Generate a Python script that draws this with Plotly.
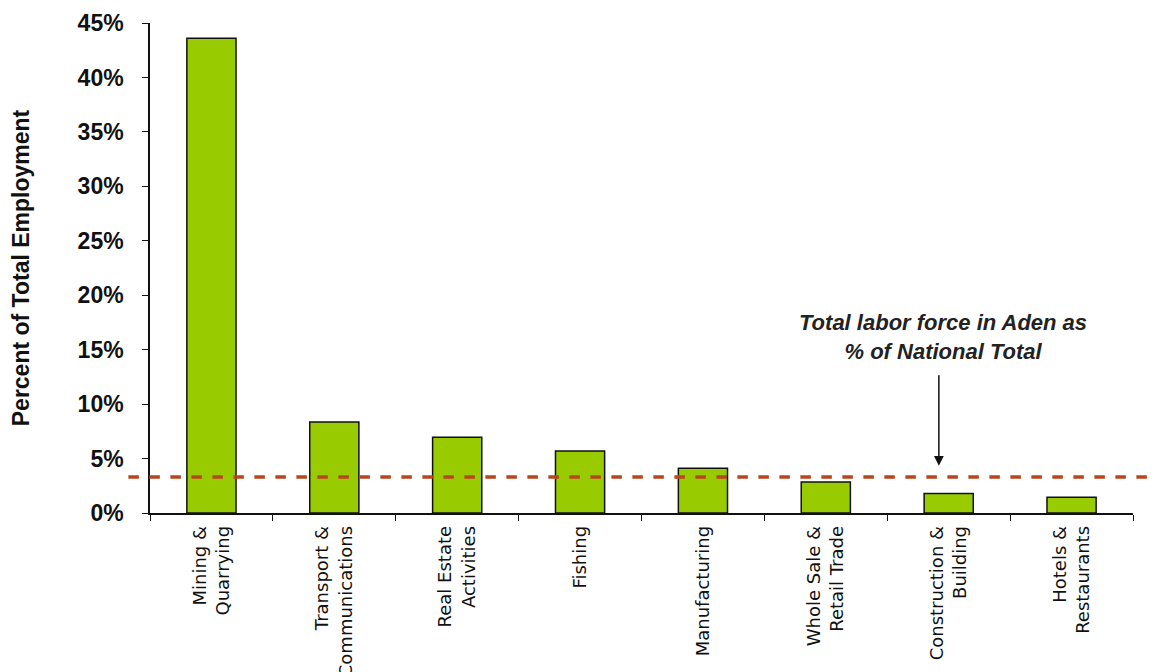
import plotly.graph_objects as go

# Share of total employment by sector (Aden)
sectors = [
    "Mining &<br>Quarrying",
    "Transport &<br>Communications",
    "Real Estate<br>Activities",
    "Fishing",
    "Manufacturing",
    "Whole Sale &<br>Retail Trade",
    "Construction &<br>Building",
    "Hotels &<br>Restaurants",
]
share_pct = [43.6, 8.35, 6.95, 5.7, 4.1, 2.85, 1.8, 1.45]

# National reference line
aden_labor_share = 3.3
y_ticks = [0, 5, 10, 15, 20, 25, 30, 35, 40, 45]

fig = go.Figure()
fig.add_trace(
    go.Bar(
        x=sectors,
        y=share_pct,
        marker=dict(color="#99CC00", line=dict(color="#111111", width=1.5)),
        width=0.4,
    )
)

# Dashed threshold line, runs past both plot edges
fig.add_shape(
    type="line",
    xref="paper",
    yref="y",
    x0=-0.022,
    x1=1.04,
    y0=aden_labor_share,
    y1=aden_labor_share,
    line=dict(color="#B9451C", width=3.5, dash="dash"),
)

# Arrow and callout text
fig.add_annotation(
    x=5.92,
    y=4.35,
    ax=0,
    ay=-92,
    text="",
    showarrow=True,
    arrowhead=2,
    arrowsize=1.3,
    arrowwidth=1.5,
    arrowcolor="#111111",
)
fig.add_annotation(
    x=5.95,
    y=16.2,
    text="<b><i>Total labor force in Aden as<br>% of National Total</i></b>",
    showarrow=False,
    font=dict(size=22, color="#222222", family="Arial, Liberation Sans"),
    align="center",
)

# page body adds an 8px offset, so margins are trimmed to compensate
fig.update_layout(
    width=1164,
    height=672,
    margin=dict(l=142, r=39, t=15, b=167),
    plot_bgcolor="white",
    paper_bgcolor="white",
    showlegend=False,
    bargap=0.6,
    font=dict(family="Arial, Liberation Sans", color="#111111"),
)
fig.update_yaxes(
    range=[0, 45],
    automargin=False,
    tickvals=y_ticks,
    ticktext=[f"<b>{v}%</b>" for v in y_ticks],
    tickfont=dict(size=23, color="#111111"),
    showgrid=False,
    zeroline=False,
    showline=True,
    linecolor="#111111",
    linewidth=1.5,
    ticks="outside",
    ticklen=6,
    tickcolor="#111111",
    ticklabelstandoff=14,
    title=dict(
        text="<b>Percent of Total Employment</b>",
        font=dict(size=23, color="#111111"),
        standoff=42,
    ),
)
fig.update_xaxes(
    range=[-0.5, 7.5],
    automargin=False,
    showgrid=False,
    showline=True,
    linecolor="#111111",
    linewidth=1.5,
    ticks="outside",
    tickson="boundaries",
    ticklen=6,
    tickcolor="#111111",
    tickangle=-90,
    tickfont=dict(size=18, color="#111111", family="DejaVu Sans"),
    ticklabelstandoff=4,
)

fig.write_html("out.html")
